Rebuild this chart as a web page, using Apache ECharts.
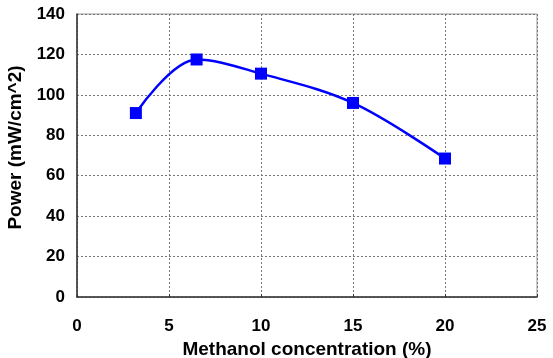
<!DOCTYPE html>
<html>
<head>
<meta charset="utf-8">
<script src="https://cdn.jsdelivr.net/npm/echarts@6/dist/echarts.min.js"></script>
<style>
  html, body { margin: 0; padding: 0; background: #fff; }
  #chart { width: 553px; height: 358px; }
</style>
</head>
<body>
<div id="chart"></div>
<script>
// Methanol concentration (%) vs. peak power density (mW/cm^2)
const concentration = [3.2, 6.5, 10, 15, 20];
const power = [91, 117.5, 110.5, 96, 68.5];
const xTicks = [0, 5, 10, 15, 20, 25];
const yTicks = [0, 20, 40, 60, 80, 100, 120, 140];

const chart = echarts.init(document.getElementById('chart'), null, { renderer: 'canvas' });

const tickFont = {
  color: '#000',
  fontFamily: 'Liberation Sans, Arial, sans-serif',
  fontWeight: 'bold',
  fontSize: 17
};
const nameFont = {
  color: '#000',
  fontFamily: 'Liberation Sans, Arial, sans-serif',
  fontWeight: 'bold',
  fontSize: 19
};

chart.setOption({
  animation: false,
  backgroundColor: '#fff',
  grid: {
    left: 77, right: 16, top: 14, bottom: 61,
    containLabel: false,
    outerBoundsMode: 'none',
    show: true,
    borderColor: '#999',
    borderWidth: 1
  },
  xAxis: {
    type: 'value',
    min: xTicks[0],
    max: xTicks[xTicks.length - 1],
    interval: 5,
    name: 'Methanol concentration (%)',
    nameLocation: 'middle',
    nameGap: 43,
    nameTextStyle: nameFont,
    axisLine: { lineStyle: { color: '#333', width: 1.5 } },
    axisTick: { inside: true, length: 3, lineStyle: { color: '#333' } },
    axisLabel: Object.assign({ margin: 21 }, tickFont),
    splitLine: { show: true, lineStyle: { color: '#777', type: [2, 2], width: 1 } }
  },
  yAxis: {
    type: 'value',
    min: yTicks[0],
    max: yTicks[yTicks.length - 1],
    interval: 20,
    name: 'Power (mW/cm^2)',
    nameLocation: 'middle',
    nameGap: 43,
    nameTextStyle: Object.assign({ padding: [0, 0, 0, 16] }, nameFont),
    axisLine: { show: true, lineStyle: { color: '#333', width: 1.5 } },
    axisTick: { show: false },
    axisLabel: Object.assign({ margin: 12 }, tickFont),
    splitLine: { show: true, lineStyle: { color: '#777', type: [2, 2], width: 1 } }
  },
  series: [{
    type: 'line',
    data: concentration.map((x, i) => [x, power[i]]),
    smooth: 0.35,
    symbol: 'rect',
    symbolSize: 12,
    showAllSymbol: true,
    lineStyle: { color: '#0000ff', width: 2.5 },
    itemStyle: { color: '#0000ff', borderWidth: 0 }
  }]
});
</script>
</body>
</html>
